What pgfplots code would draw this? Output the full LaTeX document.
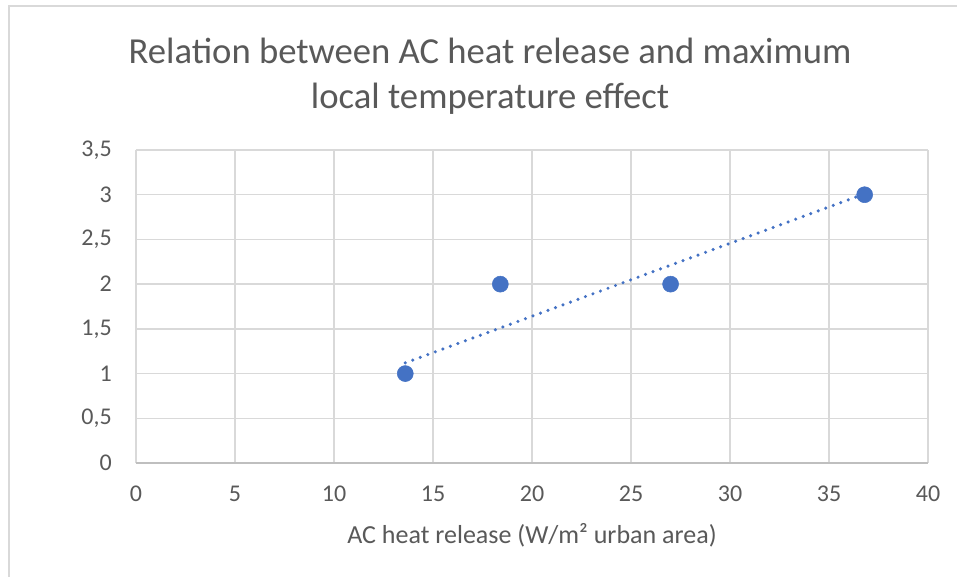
\documentclass[border=0pt]{standalone}
\usepackage{fontspec}
\setmainfont{Carlito}
\usepackage{pgfplots}
\pgfplotsset{compat=1.18}

\definecolor{txt}{HTML}{595959}
\definecolor{gridc}{HTML}{D9D9D9}
\definecolor{axc}{HTML}{BFBFBF}
\definecolor{ptc}{HTML}{4472C4}

\begin{document}
\begin{tikzpicture}
\path[use as bounding box] (-102pt,-84.75pt) rectangle (615.75pt,347.25pt);
\draw[gridc, line width=0.9pt] (-95.25pt,342.75pt) rectangle (700pt,-150pt);
\begin{axis}[
    scale only axis,
    width=594pt, height=234.75pt,
    xmin=0, xmax=40, ymin=0, ymax=3.5,
    xtick={0,5,...,40},
    ytick={0,0.5,...,3.5},
    grid=major,
    major grid style={gridc, line width=1.1pt},
    major tick length=0pt,
    axis x line*=bottom,
    axis y line*=left,
    x axis line style={axc, line width=1.3pt, -},
    y axis line style={draw=none},
    /pgf/number format/use comma,
    /pgf/number format/assume math mode=true,
    tick label style={font=\fontsize{18}{21}\selectfont, text=txt},
    xticklabel style={inner sep=0pt, anchor=north, yshift=-17pt},
    yticklabel style={inner sep=0pt, anchor=east, xshift=-18pt},
    xlabel={AC heat release (W/m² urban area)},
    xlabel style={at={(axis description cs:0.5,0)}, anchor=center, yshift=-54pt,
        font=\fontsize{19.5}{23}\selectfont, text=txt},
    clip=false,
]
% trend line
\addplot[ptc, line width=2.6pt, line cap=round, dash pattern=on 0pt off 6pt]
    coordinates {(13.6,1.12) (36.8,3.01)};
\addplot[only marks, mark=*, mark size=6pt, ptc, mark options={draw=ptc, fill=ptc}]
    coordinates {(13.6,1) (18.4,2) (27,2) (36.8,3)};
\end{axis}
\node[align=center, text=txt, font=\fontsize{27.5}{33.75}\selectfont]
    at (265.5pt,289.9pt) {Relation between AC heat release and maximum\\local temperature effect};
\end{tikzpicture}
\end{document}
